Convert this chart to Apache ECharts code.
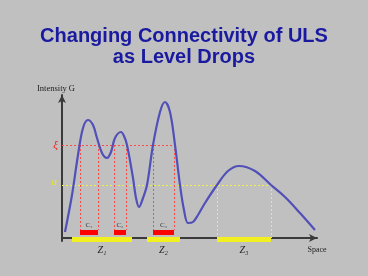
<!DOCTYPE html>
<html>
<head>
<meta charset="utf-8">
<script src="https://cdn.jsdelivr.net/npm/echarts@6/dist/echarts.min.js"></script>
<style>
  html, body { margin: 0; padding: 0; background: #c0c0c0; }
  #main { width: 368px; height: 276px; }
</style>
</head>
<body>
<div id="main"></div>
<script>
// curve samples (space, intensity)
var curveX = [3, 10, 16, 21, 26, 31, 35, 40, 45, 49, 53, 59, 62, 65, 71, 74, 77, 81, 85, 91,
  98, 103, 108, 113, 118, 122, 126, 131, 136, 143, 155, 166, 177, 193, 209, 223, 238, 253];
var curveY = [6, 43, 83, 110, 118, 113, 100, 85, 80, 86, 100, 106, 102, 93, 60, 40, 31, 40, 53, 93,
  126, 136, 126, 93, 53, 28, 15, 16, 23, 35, 53, 67, 72, 67, 53, 41, 25, 8];

// levels
var xiLevel = 93, xiEnd = 113;
var uLevel = 53, uEnd = 209;

// intervals above xi (red) and above u (yellow)
var redBars = [[18, 36], [52, 64], [91, 112]];
var redLabels = ['C₁', 'C₂', 'C₃'];
var yellowBars = [[10, 70], [85, 118], [155, 209]];
var yellowLabels = ['Z₁', 'Z₂', 'Z₃'];

var chart = echarts.init(document.getElementById('main'));

var curve = curveX.map(function (x, i) { return [x, curveY[i]]; });

var redDot = { color: '#ff4a4a', type: [2, 2], width: 1 };
var yellowDot = { color: '#f2f040', type: [2, 2], width: 1 };

var marks = [];
// horizontal level lines
marks.push([
  { coord: [0, xiLevel], lineStyle: redDot,
    label: { show: true, position: 'start', formatter: 'ξ', color: '#f02020', fontStyle: 'italic',
      fontFamily: 'Liberation Serif', fontSize: 11, distance: 4 } },
  { coord: [xiEnd, xiLevel] }
]);
marks.push([
  { coord: [0, uLevel], lineStyle: yellowDot,
    label: { show: true, position: 'start', formatter: 'u', color: '#e8e820', fontStyle: 'italic',
      fontFamily: 'Liberation Serif', fontSize: 11, distance: 5, offset: [0, -3] } },
  { coord: [uEnd, uLevel] }
]);
// red verticals + red bars
redBars.forEach(function (b, i) {
  b.forEach(function (x) {
    marks.push([
      { coord: [x, xiLevel], lineStyle: redDot, label: { show: false } },
      { coord: [x, 8] }
    ]);
  });
  marks.push([
    { coord: [b[0], 5.5], lineStyle: { color: '#ff0000', type: 'solid', width: 5 },
      label: { show: true, position: 'insideMiddleTop', distance: 4, formatter: redLabels[i],
        color: '#333', fontSize: 7, fontFamily: 'Liberation Serif' } },
    { coord: [b[1], 5.5] }
  ]);
});
// yellow verticals on the last interval
yellowBars[2].forEach(function (x) {
  marks.push([
    { coord: [x, uLevel], lineStyle: yellowDot, label: { show: false } },
    { coord: [x, 0] }
  ]);
});
// yellow bars
yellowBars.forEach(function (b, i) {
  marks.push([
    { coord: [b[0], -1.5], lineStyle: { color: '#f2f020', type: 'solid', width: 5 },
      label: { show: true, position: 'insideMiddleBottom', distance: 6, formatter: yellowLabels[i],
        color: '#222', fontSize: 10, fontStyle: 'italic', fontFamily: 'Liberation Serif' } },
    { coord: [b[1], -1.5] }
  ]);
});

var option = {
  backgroundColor: '#c0c0c0',
  animation: false,
  title: {
    text: 'Changing Connectivity of ULS\nas Level Drops',
    left: 'center',
    top: 21,
    textStyle: {
      color: '#1a1aa0',
      fontFamily: 'Liberation Sans',
      fontWeight: 'bold',
      fontSize: 20,
      lineHeight: 21
    }
  },
  grid: { left: 62, right: 51, top: 95, bottom: 35 },
  xAxis: {
    type: 'value', min: 0, max: 255,
    name: 'Space', nameLocation: 'end', nameGap: 0,
    nameTextStyle: { align: 'center', verticalAlign: 'top', padding: [8, 0, 0, 0],
      color: '#222', fontSize: 8, fontFamily: 'Liberation Serif' },
    axisLine: { onZero: true, symbol: ['none', 'arrow'], symbolSize: [6, 8],
      lineStyle: { color: '#3a3a3a', width: 2 } },
    axisTick: { show: false }, axisLabel: { show: false }, splitLine: { show: false }
  },
  yAxis: {
    type: 'value', min: -3, max: 143,
    name: 'Intensity G', nameLocation: 'end', nameGap: 2,
    nameTextStyle: { align: 'center', padding: [0, 12, 0, 0],
      color: '#222', fontSize: 8.5, fontFamily: 'Liberation Serif' },
    axisLine: { symbol: ['none', 'arrow'], symbolSize: [6, 8],
      lineStyle: { color: '#3a3a3a', width: 2 } },
    axisTick: { show: false }, axisLabel: { show: false }, splitLine: { show: false }
  },
  series: [{
    type: 'line',
    data: curve,
    smooth: 0.35,
    showSymbol: false,
    lineStyle: { color: '#5050b8', width: 2.2 },
    z: 3,
    markLine: {
      silent: true,
      symbol: ['none', 'none'],
      z: 2,
      data: marks
    }
  }]
};

chart.setOption(option);
</script>
</body>
</html>
